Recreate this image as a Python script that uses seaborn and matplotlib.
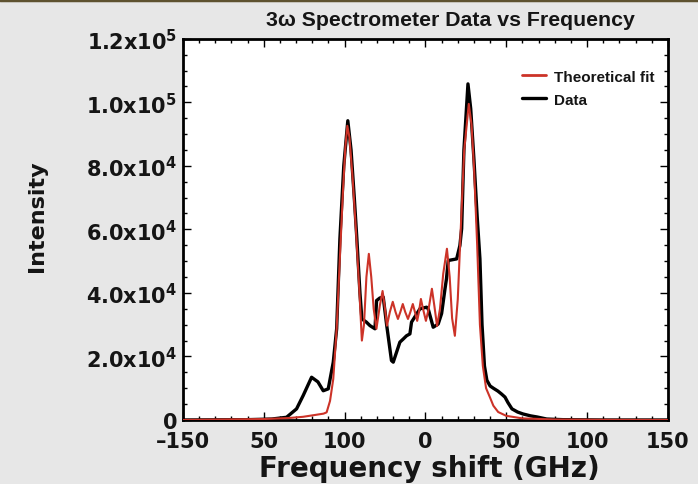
import numpy as np
import pandas as pd
import matplotlib
matplotlib.use("Agg")
import matplotlib.pyplot as plt
from matplotlib.lines import Line2D
from matplotlib.ticker import MultipleLocator
import seaborn as sns

# Data
data_x = [-150, -110, -95, -85.9, -79.7, -75.6, -70.4, -66.5, -63.2, -60.1, -57.0, -54.9, -52.9,
          -50.5, -48.0, -46.0, -44.0, -42.4, -40.5, -39.3, -36.5, -34.3, -31.2, -30.2, -28.2,
          -26.1, -24.0, -21.0, -19.9, -15.8, -13.7, -11.7, -9.6, -8.6, -3.4, 0.7, 1.7, 4.8,
          7.9, 10.0, 12.1, 13.0, 14.1, 19.3, 21.3, 22.4, 23.8, 26.3, 28.0, 30.0, 32.0, 33.7,
          35.0, 36.5, 38.0, 40.0, 42.0, 44.8, 47.0, 49.2, 51.0, 53.5, 57.0, 60.3, 65.0, 69.0,
          75.0, 85.0, 110, 150]
data_y = [0, 100, 300, 850, 3500, 7700, 13450, 12000, 9200, 9800, 18200, 28700, 57000,
          80000, 94200, 85000, 70000, 57000, 40000, 31800, 30800, 29700, 28700, 37600, 38400,
          38700, 30000, 18700, 18200, 24500, 25500, 26500, 27100, 30800, 35000, 35500, 35000, 29200,
          30200, 33500, 41300, 44400, 50200, 50700, 54900, 60200, 85000, 105800, 98000, 82000, 64000, 50700,
          30000, 17000, 12500, 10700, 10000, 9100, 8200, 7200, 5500, 3500, 2500, 1900, 1300, 950,
          300, 100, 0, 0]

fit_x = [-150, -100, -85, -75.7, -68, -63, -61.1, -59, -57.0, -54.9, -53, -51, -49.5, -48.3,
         -47, -45, -43, -41, -39.3, -38, -36.5, -35.0, -33.5, -32, -30.3, -28.2, -26.5, -25,
         -23.8, -22, -20.2, -18.5, -17.0, -15.5, -14.0, -12.5, -10.8, -9.3, -7.8, -6.5, -5.1,
         -4.0, -2.8, -1.5, 0.3, 2.0, 4.0, 5.5, 7.2, 9.0, 11.0, 13.3, 15.0, 16.5, 18.2, 20.0,
         22.0, 24.0, 26.8, 28.5, 30.0, 32.0, 33.7, 35.5, 37.5, 40.0, 42.0, 45.0, 50.0, 60.0,
         80.0, 110, 150]
fit_y = [0, 300, 600, 1000, 1600, 2000, 2400, 6000, 12900, 28700, 50000, 72000, 86000, 92600,
         89000, 76000, 60000, 42000, 25000, 30000, 45000, 52300, 45000, 35000, 28700, 36000, 40600, 35000,
         29700, 34000, 37200, 34000, 31800, 34000, 36500, 34000, 31800, 34000, 36500, 34000, 31200,
         34000, 38100, 35000, 31200, 35000, 41300, 36000, 29600, 35000, 46000, 53900, 45000, 32000, 26500, 38000,
         62000, 85000, 99500, 93000, 80000, 55000, 30000, 17000, 10000, 7000, 4500, 2500, 1300, 500,
         150, 50, 0]

x_ticks = [-150, -100, -50, 0, 50, 100, 150]
x_tick_labels = ["\u2013150", "50", "100", "0", "50", "100", "150"]
y_ticks = [0, 20000, 40000, 60000, 80000, 100000, 120000]
y_tick_labels = ["0", "2.0x10$^4$", "4.0x10$^4$", "6.0x10$^4$", "8.0x10$^4$",
                 "1.0x10$^5$", "1.2x10$^5$"]

sns.set_theme(style="white")
plt.rcParams["font.family"] = ["Liberation Sans", "DejaVu Sans"]
plt.rcParams["font.weight"] = "bold"
plt.rcParams["text.color"] = "#151515"
plt.rcParams["axes.labelcolor"] = "#151515"
plt.rcParams["xtick.color"] = "#151515"
plt.rcParams["ytick.color"] = "#151515"
plt.rcParams["mathtext.fontset"] = "custom"
plt.rcParams["mathtext.bf"] = "DejaVu Sans:bold"
plt.rcParams["mathtext.rm"] = "DejaVu Sans:bold"
plt.rcParams["mathtext.default"] = "bf"

WIDE = ["DejaVu Sans"]

fig = plt.figure(figsize=(6.98, 4.85), dpi=100, facecolor="#e7e7e7")
ax = fig.add_axes([0.262, 0.132, 0.695, 0.786])
ax.set_facecolor("white")

fit_df = pd.DataFrame({"x": fit_x, "y": fit_y})
data_df = pd.DataFrame({"x": data_x, "y": data_y})
sns.lineplot(data=data_df, x="x", y="y", ax=ax, color="black", lw=2.4,
             sort=False, estimator=None, label="Data", zorder=2)
sns.lineplot(data=fit_df, x="x", y="y", ax=ax, color="#cc3328", lw=1.5,
             sort=False, estimator=None, label="Theoretical fit", zorder=3)

ax.set_xlim(-150, 150)
ax.set_ylim(0, 120000)
ax.set_xticks(x_ticks)
ax.set_xticklabels(x_tick_labels, fontsize=15, fontweight="bold", family=WIDE)
ax.set_yticks(y_ticks)
ax.set_yticklabels(y_tick_labels, fontsize=15, fontweight="bold", family=WIDE)
ax.xaxis.set_minor_locator(MultipleLocator(10))
ax.yaxis.set_minor_locator(MultipleLocator(5000))
ax.tick_params(which="both", direction="in", top=True, right=True, bottom=True, left=True,
               color="black", width=1)
ax.tick_params(which="major", length=6)
ax.tick_params(axis="x", which="major", pad=8)
ax.tick_params(axis="y", which="major", pad=4)
ax.tick_params(which="minor", length=3)
for s in ax.spines.values():
    s.set_visible(True)
    s.set_color("black")
    s.set_linewidth(2)

ax.set_xlabel("Frequency shift (GHz)", fontsize=20, fontweight="bold", family=WIDE)
ax.xaxis.set_label_coords(0.509, -0.088)
ax.set_ylabel("Intensity", fontsize=16, fontweight="bold", family=WIDE)
ax.yaxis.set_label_coords(-0.30, 0.537)
ax.yaxis.label.set_verticalalignment("center")
fig.text(450 / 698, 1 - 20 / 485, "3\u03c9 Spectrometer Data vs Frequency", fontsize=15.3,
         fontweight="bold", ha="center", va="center")

handles = [Line2D([], [], color="#cc3328", lw=2), Line2D([], [], color="black", lw=2.4)]
ax.legend(handles, ["Theoretical fit", "Data"], loc="upper right", frameon=False,
          bbox_to_anchor=(1.0, 0.955), prop={"weight": "bold", "size": 11},
          handlelength=1.6, handletextpad=0.5, labelspacing=0.6)

fig.add_artist(Line2D([0, 1], [0.997, 0.997], transform=fig.transFigure,
                      color="#5e5230", lw=2.5))

fig.savefig("out.png", dpi=100, facecolor=fig.get_facecolor())
